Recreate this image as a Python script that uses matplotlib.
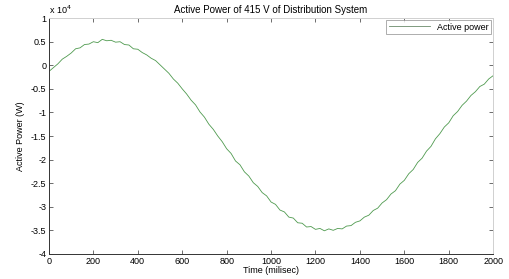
import matplotlib
matplotlib.use("Agg")
import matplotlib.pyplot as plt
import numpy as np

# time axis (milisec) and active power (units of 1e4 W)
time_ms = list(range(0, 2001, 20))
power_e4 = [
    -0.13, -0.05, 0.03, 0.13, 0.19, 0.26, 0.35, 0.37, 0.44, 0.45,
    0.50, 0.48, 0.55, 0.52, 0.53, 0.49, 0.50, 0.44, 0.43, 0.35,
    0.34, 0.27, 0.22, 0.15, 0.10, 0.01, -0.08, -0.17, -0.29, -0.38,
    -0.50, -0.61, -0.74, -0.84, -0.99, -1.10, -1.25, -1.36, -1.50, -1.62,
    -1.77, -1.87, -2.03, -2.11, -2.26, -2.35, -2.49, -2.57, -2.70, -2.77,
    -2.90, -2.95, -3.07, -3.11, -3.22, -3.24, -3.34, -3.35, -3.43, -3.42,
    -3.48, -3.46, -3.51, -3.47, -3.50, -3.46, -3.47, -3.41, -3.40, -3.33,
    -3.30, -3.22, -3.18, -3.08, -3.03, -2.92, -2.85, -2.73, -2.66, -2.52,
    -2.44, -2.30, -2.21, -2.06, -1.97, -1.82, -1.72, -1.56, -1.45, -1.31,
    -1.22, -1.07, -0.98, -0.85, -0.76, -0.64, -0.56, -0.45, -0.40, -0.29,
    -0.22,
]
x_ticks = [0, 200, 400, 600, 800, 1000, 1200, 1400, 1600, 1800, 2000]
y_ticks = [-4, -3.5, -3, -2.5, -2, -1.5, -1, -0.5, 0, 0.5, 1]

plt.rcParams['font.family'] = ['Liberation Sans', 'DejaVu Sans']
plt.rcParams['axes.unicode_minus'] = False

fig = plt.figure(figsize=(5.1, 2.79), dpi=100)
ax = fig.add_axes([0.096, 0.09, 0.871, 0.845])

ax.plot(time_ms, power_e4, color='#4f9a4f', linewidth=0.6, label='Active power')

ax.set_xlim(0, 2000)
ax.set_ylim(-4, 1)
ax.set_xticks(x_ticks)
ax.set_yticks(y_ticks)
ax.set_yticklabels(['%g' % v for v in y_ticks])
ax.tick_params(direction='in', length=3, width=0.6, labelsize=6.5,
               top=True, right=True, pad=2, color='#555555')

for side in ['top', 'right']:
    ax.spines[side].set_color('#d0d0d0')
for side in ['left', 'bottom']:
    ax.spines[side].set_color('#333333')
for s in ax.spines.values():
    s.set_linewidth(0.7)

ax.text(0.0, 1.01, r'x 10$^4$', transform=ax.transAxes, fontsize=6.5,
        ha='left', va='bottom')
ax.set_title('Active Power of 415 V of Distribution System', fontsize=7, pad=4)
ax.set_xlabel('Time (milisec)', fontsize=6.5, labelpad=0)
ax.set_ylabel('Active Power (W)', fontsize=6.5, labelpad=4)

leg = ax.legend(loc='upper right', fontsize=6.5, frameon=True, fancybox=False,
                borderaxespad=0.2, handlelength=4.5, borderpad=0.3)
leg.get_frame().set_edgecolor('#888888')
leg.get_frame().set_linewidth(0.6)
for line in leg.get_lines():
    line.set_color('#6a8a6a')

fig.savefig('out.png', dpi=100)
